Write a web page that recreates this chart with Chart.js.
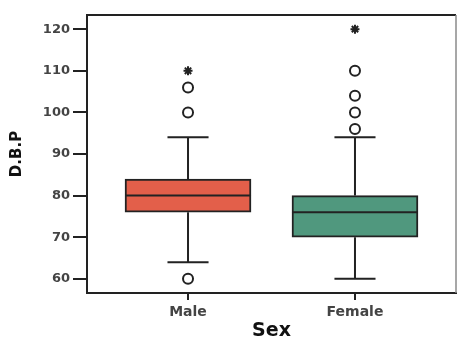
<!DOCTYPE html>
<html>
<head>
<meta charset="utf-8">
<script src="https://cdn.jsdelivr.net/npm/chart.js@4/dist/chart.umd.min.js"></script>
<style>
  body { margin: 0; background: #fff; }
</style>
</head>
<body>
<canvas id="chart" width="457" height="338"></canvas>
<script>
// box plot summary per sex
const categories = ['Male', 'Female'];
const q1 = [76, 70];
const median = [80, 76];
const q3 = [84, 80];
const whiskerLow = [64, 60];
const whiskerHigh = [94, 94];
const outliersMale = [60, 100, 106];
const outliersFemale = [96, 100, 104, 110];
const extremesMale = [110];
const extremesFemale = [120];
const yTicks = [60, 70, 80, 90, 100, 110, 120];
const boxColors = ['rgb(227, 95, 74)', 'rgb(80, 152, 126)'];

const ink = '#222';

const toPoints = (values, pos) => values.map((v) => ({ x: pos, y: v }));

// median line, whiskers and caps drawn on top of the floating bars
const whiskerPlugin = {
  id: 'whiskers',
  afterDatasetsDraw(chart) {
    const { ctx } = chart;
    const yScale = chart.scales.y;
    const boxes = chart.getDatasetMeta(0).data;
    ctx.save();
    ctx.strokeStyle = ink;
    ctx.lineWidth = 2;
    boxes.forEach((bar, i) => {
      const half = bar.width / 2;
      const cap = bar.width * 0.163;
      const yMed = yScale.getPixelForValue(median[i]);
      const yQ1 = yScale.getPixelForValue(q1[i]);
      const yQ3 = yScale.getPixelForValue(q3[i]);
      const yLo = yScale.getPixelForValue(whiskerLow[i]);
      const yHi = yScale.getPixelForValue(whiskerHigh[i]);
      ctx.beginPath();
      ctx.moveTo(bar.x - half, yMed);
      ctx.lineTo(bar.x + half, yMed);
      ctx.moveTo(bar.x, yQ3);
      ctx.lineTo(bar.x, yHi);
      ctx.moveTo(bar.x - cap, yHi);
      ctx.lineTo(bar.x + cap, yHi);
      ctx.moveTo(bar.x, yQ1);
      ctx.lineTo(bar.x, yLo);
      ctx.moveTo(bar.x - cap, yLo);
      ctx.lineTo(bar.x + cap, yLo);
      ctx.stroke();
    });
    ctx.restore();
  },
};

// top and right edges of the frame
const framePlugin = {
  id: 'frame',
  afterDraw(chart) {
    const { ctx, chartArea: a } = chart;
    ctx.save();
    ctx.lineWidth = 2;
    ctx.strokeStyle = ink;
    ctx.beginPath();
    ctx.moveTo(a.left, a.top);
    ctx.lineTo(a.right, a.top);
    ctx.stroke();
    ctx.lineWidth = 1.5;
    ctx.strokeStyle = '#8a8a8a';
    ctx.beginPath();
    ctx.moveTo(a.right, a.top);
    ctx.lineTo(a.right, a.bottom);
    ctx.stroke();
    ctx.restore();
  },
};

const outlierStyle = {
  type: 'scatter',
  pointStyle: 'circle',
  pointRadius: 5,
  pointBorderWidth: 2,
  borderColor: ink,
  backgroundColor: '#fff',
};

const extremeStyle = {
  type: 'scatter',
  pointStyle: 'star',
  pointRadius: 4.5,
  pointBorderWidth: 2,
  borderColor: ink,
  backgroundColor: ink,
};

Chart.defaults.font.family = 'DejaVu Sans';

new Chart(document.getElementById('chart'), {
  type: 'bar',
  data: {
    datasets: [
      {
        data: categories.map((c, i) => ({ x: i + 1, y: [q1[i], q3[i]] })),
        backgroundColor: boxColors,
        borderColor: ink,
        borderWidth: 2,
        borderSkipped: false,
        barThickness: 126,
      },
      { ...outlierStyle, data: toPoints(outliersMale, 1) },
      { ...outlierStyle, data: toPoints(outliersFemale, 2) },
      { ...extremeStyle, data: toPoints(extremesMale, 1) },
      { ...extremeStyle, data: toPoints(extremesFemale, 2) },
    ],
  },
  options: {
    responsive: false,
    animation: false,
    layout: {
      autoPadding: false,
      padding: { top: 15, right: 1, left: 0, bottom: 0 },
    },
    plugins: {
      legend: { display: false },
      tooltip: { enabled: false },
    },
    scales: {
      x: {
        type: 'linear',
        offset: false,
        min: 0.395,
        max: 2.605,
        afterBuildTicks: (axis) => {
          axis.ticks = categories.map((c, i) => ({ value: i + 1 }));
        },
        afterFit: (axis) => {
          axis.height = 45;
          axis.paddingLeft = 0;
          axis.paddingRight = 0;
        },
        ticks: {
          callback: (value, index) => categories[index],
          color: '#444',
          font: { size: 14, weight: 'bold' },
          padding: 4,
        },
        grid: {
          offset: false,
          drawOnChartArea: false,
          tickLength: 7,
          tickColor: ink,
          lineWidth: 2,
        },
        border: { color: ink, width: 2 },
        title: {
          display: true,
          text: 'Sex',
          color: '#111',
          font: { size: 19, weight: 'bold', lineHeight: 0.7 },
          padding: { top: 0, bottom: 0 },
        },
      },
      y: {
        min: 56.6,
        max: 123.4,
        afterBuildTicks: (axis) => {
          axis.ticks = yTicks.map((v) => ({ value: v }));
        },
        afterFit: (axis) => { axis.width = 87; },
        ticks: {
          color: '#444',
          font: { size: 13, weight: 'bold' },
          padding: 3,
        },
        grid: {
          drawOnChartArea: false,
          tickLength: 14,
          tickColor: ink,
          lineWidth: 2,
        },
        border: { color: ink, width: 2 },
        title: {
          display: true,
          text: 'D.B.P',
          color: '#111',
          font: { size: 15, weight: 'bold' },
          padding: { top: 8, bottom: 0 },
        },
      },
    },
  },
  plugins: [whiskerPlugin, framePlugin],
});
</script>
</body>
</html>
